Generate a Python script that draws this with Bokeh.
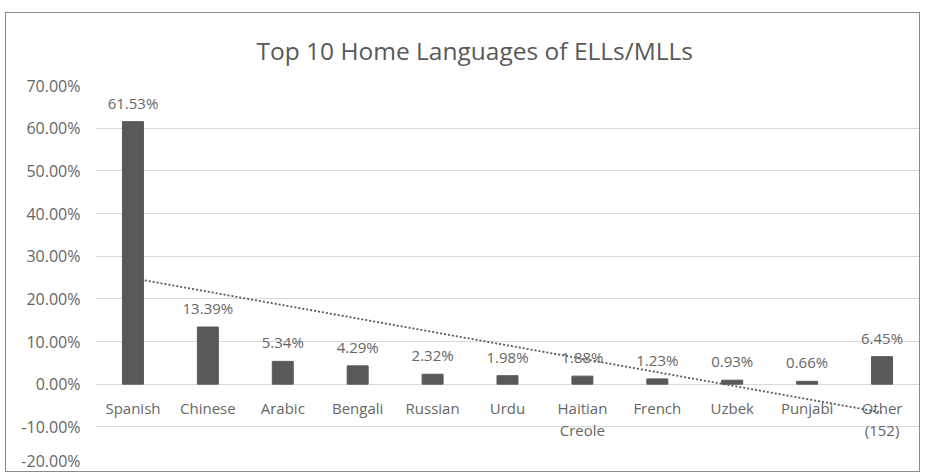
import numpy as np
from bokeh.plotting import figure
from bokeh.models import FactorRange, Range1d, FixedTicker, PrintfTickFormatter, ColumnDataSource
from bokeh.core.properties import value
from bokeh.embed import file_html
from bokeh.resources import INLINE

title_text = "Top 10 Home Languages of ELLs/MLLs"
categories = ["Spanish", "Chinese", "Arabic", "Bengali", "Russian", "Urdu",
              "Haitian\nCreole", "French", "Uzbek", "Punjabi", "Other\n(152)"]
shares = [61.53, 13.39, 5.34, 4.29, 2.32, 1.98, 1.88, 1.23, 0.93, 0.66, 6.45]
y_ticks = [-20, -10, 0, 10, 20, 30, 40, 50, 60, 70]

GRAY = "#595959"
LABEL = "#666666"
FONT = "Open Sans"

p = figure(x_range=FactorRange(*categories, range_padding=0), y_range=Range1d(-20, 70),
           width=915, height=460, output_backend="svg", toolbar_location=None,
           min_border_left=89, min_border_right=2, min_border_top=72, min_border_bottom=4)
p.styles = {"border": "1px solid #8a8a8a", "margin-left": "5px", "margin-top": "12px"}
p.outline_line_color = None
p.border_fill_color = "white"
p.background_fill_color = "white"

p.title.text = title_text
p.title.align = "left"
p.title.offset = 161
p.title.text_font = FONT
p.title.text_font_size = "24.5px"
p.title.text_font_style = "normal"
p.title.text_color = GRAY
p.title.standoff = 37

p.xaxis.visible = False
p.xgrid.grid_line_color = None
p.ygrid.grid_line_color = "#d9d9d9"
p.ygrid.grid_line_width = 1
p.yaxis.ticker = FixedTicker(ticks=y_ticks)
p.yaxis.formatter = PrintfTickFormatter(format="%.2f%%")
p.yaxis.axis_line_color = None
p.yaxis.major_tick_line_color = None
p.yaxis.minor_tick_line_color = None
p.yaxis.major_label_text_font = FONT
p.yaxis.major_label_text_font_size = "16px"
p.yaxis.major_label_text_color = LABEL
p.yaxis.major_label_standoff = 9

src = ColumnDataSource(dict(cat=categories, val=shares,
                            lab=["%.2f%%" % v for v in shares]))
p.vbar(x="cat", top="val", bottom=0, width=0.28, source=src,
       fill_color=GRAY, line_color=GRAY)

# linear trendline
xi = np.arange(1, len(shares) + 1)
k, b = np.polyfit(xi, np.array(shares), 1)
p.line(x=categories, y=list(k * xi + b), line_color=GRAY, line_width=1.8, line_dash="2 2")

p.text(x="cat", y="val", text="lab", source=src, text_align="center",
       text_baseline="bottom", y_offset=-9, text_color=LABEL,
       text_font=value(FONT), text_font_size="15px")

p.text(x=categories, y=[0] * len(categories), text=categories, text_align="center",
       text_baseline="top", y_offset=14, text_color=LABEL, text_line_height=1.1,
       text_font=value(FONT), text_font_size="15px")

open("out.html", "w").write(file_html(p, INLINE))
